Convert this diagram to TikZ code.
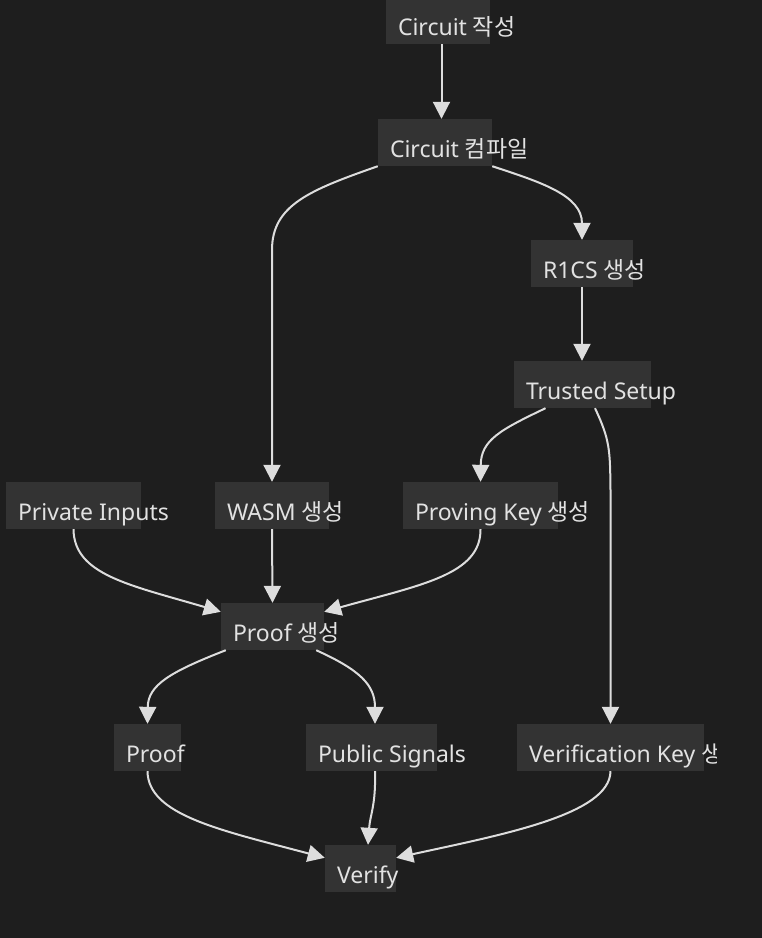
\documentclass[tikz,border=0pt]{standalone}
\usepackage{fontspec}
\setmainfont{Noto Sans}
\newfontfamily\krfont{Noto Sans CJK KR}
\usetikzlibrary{arrows.meta,calc}
\definecolor{bgc}{HTML}{1E1E1E}
\definecolor{boxc}{HTML}{333333}
\definecolor{linec}{HTML}{DDDDDD}
\definecolor{txtc}{HTML}{E2E2E2}
\newcommand{\hg}[1]{{\krfont #1}}

\begin{document}
\begin{tikzpicture}[x=1pt,y=-1pt,
  box/.style={fill=boxc, inner sep=0, minimum height=47pt},
  lbl/.style={anchor=base west, inner sep=0, text=txtc, font=\fontsize{23}{28}\selectfont},
  edge/.style={draw=linec, line width=2pt, -{Triangle[length=17pt,width=17pt]}}]
  % background
  \fill[bgc] (0,0) rectangle (762,938);
  \useasboundingbox (0,0) rectangle (762,938);

  % Boxes
  \node[box, minimum width=104pt] (write)    at (438,20.5)    {};
  \node[box, minimum width=114pt] (compile)  at (435,142.5)   {};
  \node[box, minimum width=102pt] (r1cs)     at (582,263.5)   {};
  \node[box, minimum width=137pt] (setup)    at (582.5,384.5) {};
  \node[box, minimum width=135pt] (priv)     at (73.5,505.5)  {};
  \node[box, minimum width=114pt] (wasm)     at (272,505.5)   {};
  \node[box, minimum width=155pt] (pkey)     at (480.5,505.5) {};
  \node[box, minimum width=103pt] (proofgen) at (272.5,626.5) {};
  \node[box, minimum width=67pt]  (proof)    at (147.5,747.5) {};
  \node[box, minimum width=131pt] (pub)      at (371.5,747.5) {};
  \node[box, minimum width=187pt] (vkey)     at (610.5,747.5) {};
  \node[box, minimum width=71pt]  (verify)   at (360.5,868.5) {};

  % Labels (they run past the right edge of their boxes)
  \node[lbl] (writet)    at ($(write.north west)+(12,39)$)    {Circuit \hg{작성}};
  \node[lbl] (compilet)  at ($(compile.north west)+(12,39)$)  {Circuit \hg{컴파일}};
  \node[lbl] (r1cst)     at ($(r1cs.north west)+(12,39)$)     {R1CS \hg{생성}};
  \node[lbl] (setupt)    at ($(setup.north west)+(12,39)$)    {Trusted Setup};
  \node[lbl] (privt)     at ($(priv.north west)+(12,39)$)     {Private Inputs};
  \node[lbl] (wasmt)     at ($(wasm.north west)+(12,39)$)     {WASM \hg{생성}};
  \node[lbl] (pkeyt)     at ($(pkey.north west)+(12,39)$)     {Proving Key \hg{생성}};
  \node[lbl] (proofgent) at ($(proofgen.north west)+(12,39)$) {Proof \hg{생성}};
  \node[lbl] (prooft)    at ($(proof.north west)+(12,39)$)    {Proof};
  \node[lbl] (pubt)      at ($(pub.north west)+(12,39)$)      {Public Signals};
  \begin{scope}
    \clip (0,0) rectangle (716,938);
    \node[lbl] (vkeyt)   at ($(vkey.north west)+(12,39)$)     {Verification Key \hg{생성}};
  \end{scope}
  \node[lbl] (verifyt)   at ($(verify.north west)+(12,39)$)   {Verify};

  % Edges
  \draw[edge] ($(write.south)+(3.5,0)$) -- ($(compile.north)+(6.5,0)$);
  \draw[edge] (compile.south west) .. controls (310,190) and (272,205) .. (272,250) -- (wasm.north);
  \draw[edge] (compile.south east) .. controls (540,182) and (582,195) .. (r1cs.north);
  \draw[edge] (r1cs.south) -- (r1cs.south |- setup.north);
  \draw[edge] ($(setup.south)+(-37,0)$) .. controls (500,430) and (481,440) .. (pkey.north);
  \draw[edge] ($(setup.south)+(12.5,0)$) .. controls (610,440) and (610,450) .. (610.5,490) -- (vkey.north);
  \draw[edge] (priv.south) .. controls (74,575) and (130,585) .. ($(proofgen.north west)+(0,9)$);
  \draw[edge] (wasm.south) -- (proofgen.north);
  \draw[edge] (pkey.south) .. controls (481,575) and (420,585) .. ($(proofgen.north east)+(0,9)$);
  \draw[edge] ($(proofgen.south west)+(5,0)$) .. controls (170,672) and (148,685) .. (proof.north);
  \draw[edge] ($(proofgen.south east)+(-8,0)$) .. controls (360,670) and (375,685) .. ($(pub.north)+(3.5,0)$);
  \draw[edge] (proof.south) .. controls (148,815) and (220,830) .. ($(verify.north west)+(0,13)$);
  \draw[edge] ($(pub.south)+(3.5,0)$) .. controls (376,805) and (370,815) .. ($(verify.north)+(7.5,0)$);
  \draw[edge] (vkey.south) .. controls (610,815) and (500,835) .. ($(verify.north east)+(0,13)$);
\end{tikzpicture}
\end{document}
